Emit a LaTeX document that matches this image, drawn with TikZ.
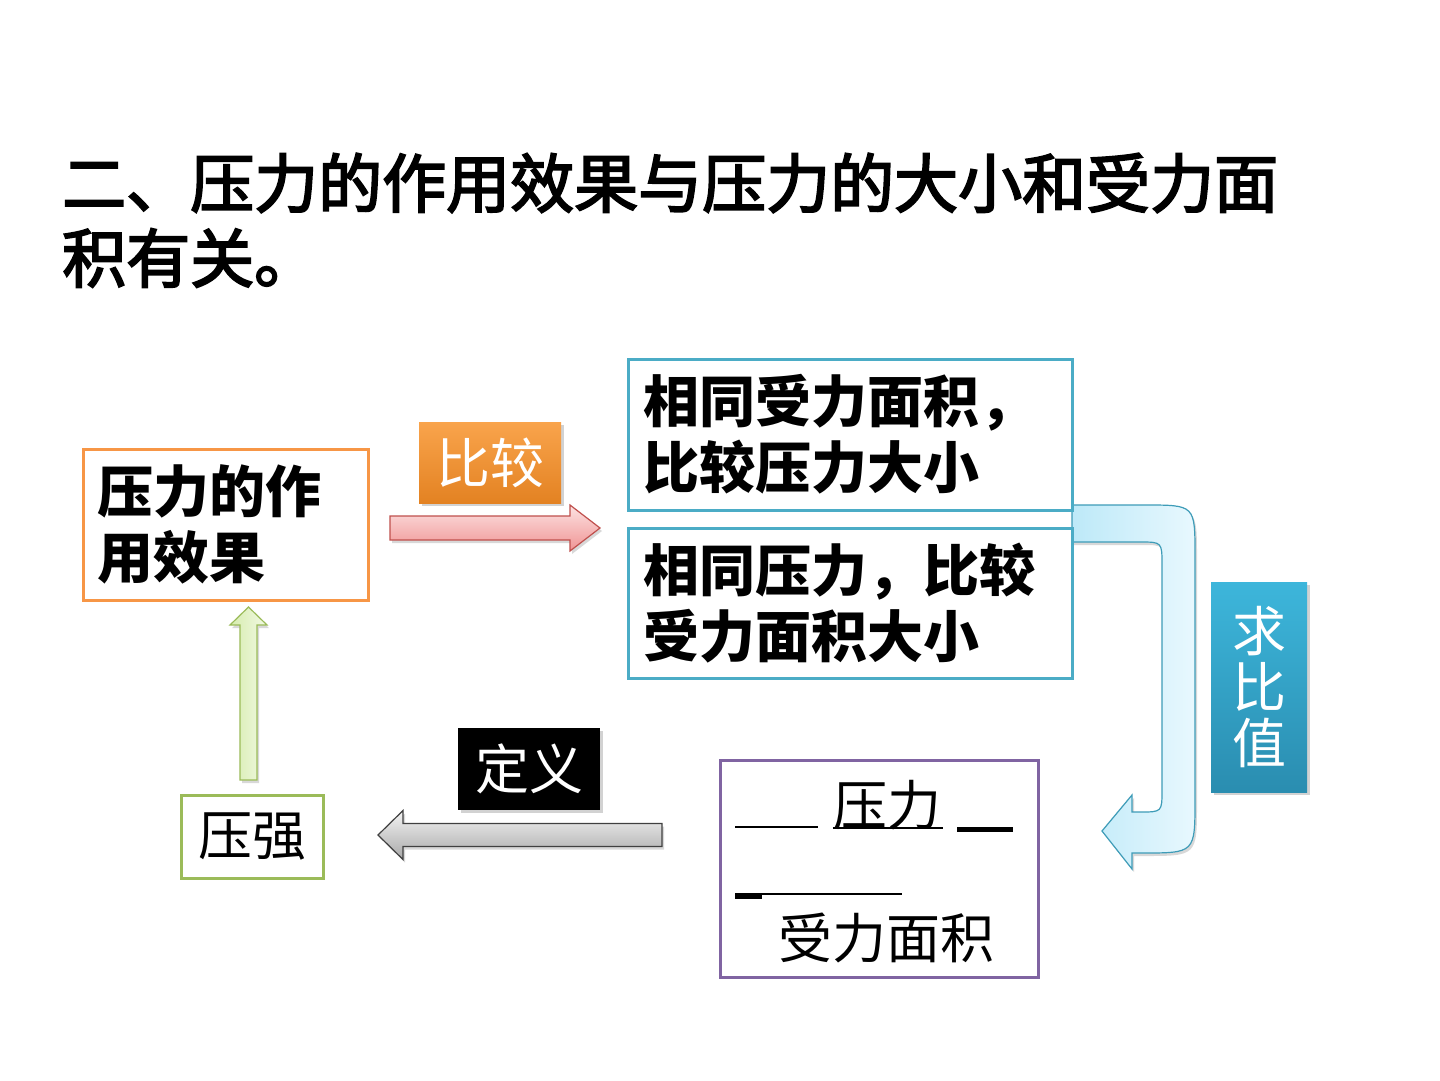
\documentclass[tikz,border=0pt]{standalone}
\usepackage{fontspec}
\setmainfont{Noto Sans CJK SC}
\newfontfamily\titlefont{Noto Sans CJK SC}[FakeBold=3]
\usetikzlibrary{shadows}

\definecolor{effectline}{HTML}{F79646}
\definecolor{tealline}{HTML}{4BACC6}
\definecolor{ratioline}{HTML}{8064A2}
\definecolor{greenline}{HTML}{9BBB59}
\definecolor{tagorangeT}{HTML}{F9A44C}
\definecolor{tagorangeB}{HTML}{E38222}
\definecolor{tagtealT}{HTML}{3DB6DB}
\definecolor{tagtealB}{HTML}{2A8DB0}
\definecolor{pinkT}{HTML}{FCE2E2}
\definecolor{pinkB}{HTML}{F09494}
\definecolor{pinkline}{HTML}{C0504D}
\definecolor{grayT}{HTML}{F4F4F4}
\definecolor{grayB}{HTML}{A8A8A8}
\definecolor{lgreenL}{HTML}{D6ECAE}
\definecolor{lgreenR}{HTML}{F2F9E4}
\definecolor{skyL}{HTML}{BDE9F8}
\definecolor{skyR}{HTML}{E8F8FE}
\definecolor{skyline}{HTML}{3E9CB8}

\begin{document}
\begin{tikzpicture}[x=1pt,y=-1pt,
  every node/.style={inner sep=0pt},
  titletext/.style={anchor=west, font=\titlefont\fontsize{64}{75}\selectfont},
  boldtext/.style={align=left, font=\bfseries\fontsize{56}{66}\selectfont},
  plaintext/.style={font=\fontsize{54}{56}\selectfont},
  framebox/.style={draw, line width=3pt, fill=white},
  tag/.style={text=white, font=\fontsize{54}{56}\selectfont,
    drop shadow={shadow xshift=3pt, shadow yshift=-3pt, opacity=0.35}},
  blockarrow/.style={line width=1.2pt, line join=miter,
    drop shadow={shadow xshift=2pt, shadow yshift=-3pt, opacity=0.3}}]

% Background and page size
\fill[white] (0,0) rectangle (1440,1080);
\useasboundingbox (0,0) rectangle (1440,1080);

% Title
\node[titletext] (title) at (62,183) {二、压力的作用效果与压力的大小和受力面};
\node[titletext] (title2) at (62,258) {积有关。};

% Bent arrow from the two boxes down to the ratio box
\coordinate (bendS) at (1072,505);
\draw[blockarrow, draw=skyline, left color=skyL, right color=skyR]
  (bendS) -- (1145,505) .. controls (1195,505) .. (1195,555)
  -- (1195,800) .. controls (1195,853) .. (1142,853)
  -- (1132,853) -- (1132,869) -- (1102,831) -- (1132,795) -- (1132,812)
  -- (1140,812) .. controls (1162,812) .. (1162,790)
  -- (1162,565) .. controls (1162,542) .. (1140,542)
  -- (1072,542) -- cycle;

% Effect box
\node[framebox, boldtext, draw=effectline, minimum width=285pt,
  minimum height=151pt, text width=256pt, inner xsep=14.5pt]
  (effect) at (225.5,524.5) {压力的作\\用效果};

% Two comparison boxes
\node[framebox, boldtext, draw=tealline, minimum width=444pt,
  minimum height=151pt, text width=414pt, inner xsep=15pt]
  (sameArea) at (850,434.5) {相同受力面积，\\比较压力大小};
\node[framebox, boldtext, draw=tealline, minimum width=444pt,
  minimum height=150pt, text width=414pt, inner xsep=15pt]
  (sameForce) at (850,603) {相同压力，比较\\受力面积大小};

% Ratio box with the fraction
\node[framebox, draw=ratioline, minimum width=318pt, minimum height=217pt]
  (ratio) at (879,868.5) {};
\node[plaintext] (pressNum) at (887,805) {压力};
\node[plaintext] (areaDen) at (886,938) {受力面积};
\draw[line width=1.5pt] (735,827) -- (818,827);
\draw[line width=1.5pt] (pressNum.south west) ++(0,-2) -- ++(110,0);
\draw[line width=5pt] (957,829) -- (1013,829);
\draw[line width=1.5pt] (735,894) -- (902,894);
\draw[line width=4pt] (735,897) -- (762,897);

% Pressure box
\node[framebox, plaintext, draw=greenline, minimum width=142pt,
  minimum height=83pt] (pressure) at (252,836.5) {压强};

% Tags
\node[tag, top color=tagorangeT, bottom color=tagorangeB,
  minimum width=142pt, minimum height=81pt] (cmpTag) at (490,462.5) {比较};
\node[tag, fill=black, minimum width=142pt, minimum height=82pt]
  (defTag) at (529,769) {定义};
\node[tag, top color=tagtealT, bottom color=tagtealB, align=center,
  minimum width=96pt, minimum height=210pt] (ratioTag) at (1259,687)
  {求\\比\\值};

% Compare arrow
\coordinate (cmpS) at (390,528);
\draw[blockarrow, draw=pinkline, top color=pinkT, bottom color=pinkB]
  (cmpS) ++(0,-12) -- ++(180,0) -- ++(0,-11) -- ++(30,23)
  -- ++(-30,23) -- ++(0,-11) -- ++(-180,0) -- cycle;

% Define arrow
\coordinate (defS) at (662,835);
\draw[blockarrow, draw=black!75, top color=grayT, bottom color=grayB]
  (defS) ++(0,-11.5) -- ++(-259,0) -- ++(0,-13) -- ++(-25,24.5)
  -- ++(25,24.5) -- ++(0,-13) -- ++(259,0) -- cycle;

% Arrow up to the effect box
\coordinate (upS) at (248.5,780);
\draw[blockarrow, draw=greenline, left color=lgreenL, right color=lgreenR]
  (upS) ++(-8.5,0) -- ++(0,-155) -- ++(-10,0) -- ++(18.5,-18)
  -- ++(18.5,18) -- ++(-10,0) -- ++(0,155) -- cycle;

\end{tikzpicture}
\end{document}
